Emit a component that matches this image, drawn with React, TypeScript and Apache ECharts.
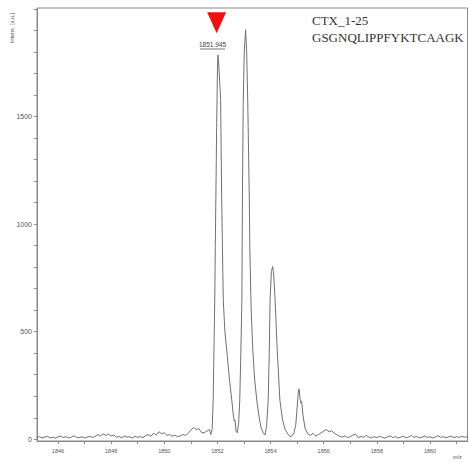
import React, { useEffect, useRef } from "react";
import * as echarts from "echarts";

// m/z and intensity (three segments)
const lowMz = [
  1845.2, 1845.3, 1845.4, 1845.5, 1845.6, 1845.7, 1845.8, 1845.9, 1846.0, 1846.1,
  1846.2, 1846.3, 1846.4, 1846.5, 1846.6, 1846.7, 1846.8, 1846.9, 1847.0, 1847.1,
  1847.2, 1847.3, 1847.4, 1847.5, 1847.6, 1847.7, 1847.8, 1847.9, 1848.0, 1848.1,
  1848.2, 1848.3, 1848.4, 1848.5, 1848.6, 1848.7, 1848.8, 1848.9, 1849.0, 1849.1,
  1849.2, 1849.3, 1849.4, 1849.5, 1849.6, 1849.7, 1849.8, 1849.9, 1850.0, 1850.1,
  1850.2, 1850.3, 1850.4, 1850.5, 1850.6, 1850.7, 1850.8, 1850.9, 1851.0, 1851.1,
  1851.2, 1851.3, 1851.4, 1851.5, 1851.6, 1851.7, 1851.75,
];
const lowIntensity = [
  8, 12, 6, 10, 14, 7, 9, 5, 11, 15,
  8, 12, 6, 10, 16, 9, 7, 12, 6, 10,
  13, 8, 14, 22, 16, 25, 18, 24, 15, 20,
  9, 13, 7, 15, 10, 12, 6, 14, 9, 12,
  8, 17, 22, 14, 28, 20, 35, 26, 30, 18,
  22, 14, 19, 12, 16, 22, 18, 28, 42, 55,
  45, 50, 32, 30, 38, 45, 22,
];

const peakMz = [
  1851.80, 1851.84, 1851.87, 1851.90, 1851.92, 1851.94, 1851.97, 1852.00, 1852.02, 1852.05,
  1852.09, 1852.12, 1852.16, 1852.22, 1852.28, 1852.35, 1852.45, 1852.54, 1852.59, 1852.63,
  1852.66, 1852.70, 1852.75, 1852.80, 1852.84, 1852.88, 1852.92, 1852.94, 1852.97, 1853.01,
  1853.06, 1853.10, 1853.14, 1853.20, 1853.22, 1853.27, 1853.33, 1853.40, 1853.48, 1853.56,
  1853.64, 1853.72, 1853.79, 1853.85, 1853.91, 1853.95, 1853.98, 1854.03, 1854.08, 1854.12,
  1854.17, 1854.25, 1854.35, 1854.45, 1854.55, 1854.65, 1854.73, 1854.80, 1854.88, 1854.95,
  1855.00, 1855.04, 1855.07, 1855.11, 1855.14, 1855.17, 1855.22, 1855.30, 1855.40,
];
const peakIntensity = [
  45, 182, 420, 648, 900, 1113, 1450, 1720, 1787, 1740,
  1650, 1580, 1113, 648, 500, 415, 280, 182, 120, 85,
  90, 38, 30, 80, 182, 400, 650, 1113, 1560, 1800,
  1904, 1800, 1578, 1113, 880, 600, 415, 280, 182, 110,
  55, 30, 20, 60, 182, 400, 648, 780, 803, 760,
  648, 415, 182, 90, 45, 25, 12, 15, 30, 70,
  150, 215, 234, 190, 168, 175, 110, 50, 25,
];

const highMz = [
  1855.5, 1855.6, 1855.7, 1855.8, 1855.9, 1856.0, 1856.1, 1856.2, 1856.3, 1856.4,
  1856.5, 1856.6, 1856.7, 1856.8, 1856.9, 1857.0, 1857.1, 1857.2, 1857.3, 1857.4,
  1857.5, 1857.6, 1857.7, 1857.8, 1857.9, 1858.0, 1858.1, 1858.2, 1858.3, 1858.4,
  1858.5, 1858.6, 1858.7, 1858.8, 1858.9, 1859.0, 1859.1, 1859.2, 1859.3, 1859.4,
  1859.5, 1859.6, 1859.7, 1859.8, 1859.9, 1860.0, 1860.1, 1860.2, 1860.3, 1860.4,
  1860.5, 1860.6, 1860.7, 1860.8, 1860.9, 1861.0, 1861.1, 1861.2, 1861.3, 1861.4,
];
const highIntensity = [
  18, 28, 15, 22, 30, 38, 45, 35, 40, 28,
  20, 14, 10, 16, 8, 12, 20, 24, 7, 13,
  9, 18, 10, 6, 12, 8, 14, 9, 5, 11,
  16, 8, 12, 6, 10, 14, 7, 11, 18, 9,
  13, 6, 10, 15, 8, 12, 6, 10, 17, 9,
  12, 7, 11, 14, 8, 12, 9, 13, 10, 12,
];

const xLabelValues = [1846, 1848, 1850, 1852, 1854, 1856, 1858, 1860];
const xTickValues = [1846, 1847, 1848, 1849, 1850, 1851, 1852, 1853, 1854, 1855, 1856, 1857, 1858, 1859, 1860, 1861];
const yLabelValues = [0, 500, 1000, 1500];
const yTickValues = [0, 100, 200, 300, 400, 500, 600, 700, 800, 900, 1000, 1100, 1200, 1300, 1400, 1500, 1600, 1700, 1800, 1900, 2000];

const peakLabel = "1851.945";
const markerMz = 1851.97;
const markerIntensity = 1936;

export default function App() {
  const ref = useRef<HTMLDivElement>(null);
  useEffect(() => {
    if (!ref.current) return;
    const chart = echarts.init(ref.current, null, { renderer: "svg" });
    const mz = [...lowMz, ...peakMz, ...highMz];
    const inten = [...lowIntensity, ...peakIntensity, ...highIntensity];
    const data = mz.map((m, i) => [m, inten[i]]);
    const axisGray = "#8a8a8a";
    chart.setOption({
      animation: false,
      backgroundColor: "#ffffff",
      grid: {
        left: 37,
        right: 1.5,
        top: 8,
        bottom: 22,
        show: true,
        borderColor: axisGray,
        borderWidth: 1,
        containLabel: false,
        outerBoundsMode: "none",
      },
      xAxis: {
        type: "value",
        min: 1845.21,
        max: 1861.41,
        splitLine: { show: false },
        axisLine: { show: true, onZero: false, lineStyle: { color: axisGray, width: 1 } },
        axisTick: { show: true, length: 3, customValues: xTickValues, lineStyle: { color: axisGray } },
        axisLabel: {
          customValues: xLabelValues,
          formatter: (v: number) => String(v),
          fontSize: 5.5,
          color: "#555",
          margin: 7,
          fontFamily: "Liberation Sans",
        },
      },
      yAxis: {
        type: "value",
        min: -8,
        max: 2005,
        splitLine: { show: false },
        axisLine: { show: true, lineStyle: { color: axisGray, width: 1 } },
        axisTick: { show: true, length: 3, customValues: yTickValues, lineStyle: { color: axisGray } },
        axisLabel: {
          customValues: yLabelValues,
          formatter: (v: number) => String(v),
          fontSize: 7,
          color: "#555",
          margin: 5,
          fontFamily: "Liberation Sans",
        },
      },
      series: [
        {
          type: "line",
          data,
          showSymbol: false,
          lineStyle: { color: "#707070", width: 1 },
          markPoint: {
            symbol: "triangle",
            symbolRotate: 180,
            symbolSize: [19, 21],
            itemStyle: { color: "#ee1111" },
            label: { show: false },
            data: [{ coord: [markerMz, markerIntensity] }],
          },
        },
      ],
      graphic: [
        {
          type: "text",
          x: 12,
          y: 28,
          rotation: Math.PI / 2,
          style: {
            text: "Intens. [a.u.]",
            fontSize: 5.5,
            fill: "#555",
            align: "center",
            verticalAlign: "middle",
            fontFamily: "Liberation Sans",
          },
        },
        {
          type: "text",
          x: 453,
          y: 457,
          style: { text: "m/z", fontSize: 5.5, fill: "#555", fontFamily: "Liberation Sans", verticalAlign: "middle" },
        },
        {
          type: "text",
          x: 212.5,
          y: 44.5,
          style: {
            text: peakLabel,
            fontSize: 6.5,
            fill: "#444",
            align: "center",
            verticalAlign: "middle",
            fontFamily: "Liberation Sans",
          },
        },
        {
          type: "line",
          shape: { x1: 200, y1: 49, x2: 225, y2: 49 },
          style: { stroke: "#555", lineWidth: 0.8 },
        },
        {
          type: "text",
          x: 312,
          y: 20.5,
          style: {
            text: "CTX_1-25",
            fontSize: 13,
            fill: "#333",
            verticalAlign: "middle",
            fontFamily: "Liberation Serif",
          },
        },
        {
          type: "text",
          x: 312,
          y: 37,
          style: {
            text: "GSGNQLIPPFYKTCAAGK",
            fontSize: 13,
            fill: "#333",
            verticalAlign: "middle",
            fontFamily: "Liberation Serif",
          },
        },
      ],
    });
    return () => chart.dispose();
  }, []);
  return (
    <div
      ref={ref}
      style={{ position: "fixed", left: 0, top: 0, width: 469, height: 463, background: "#fff" }}
    />
  );
}
